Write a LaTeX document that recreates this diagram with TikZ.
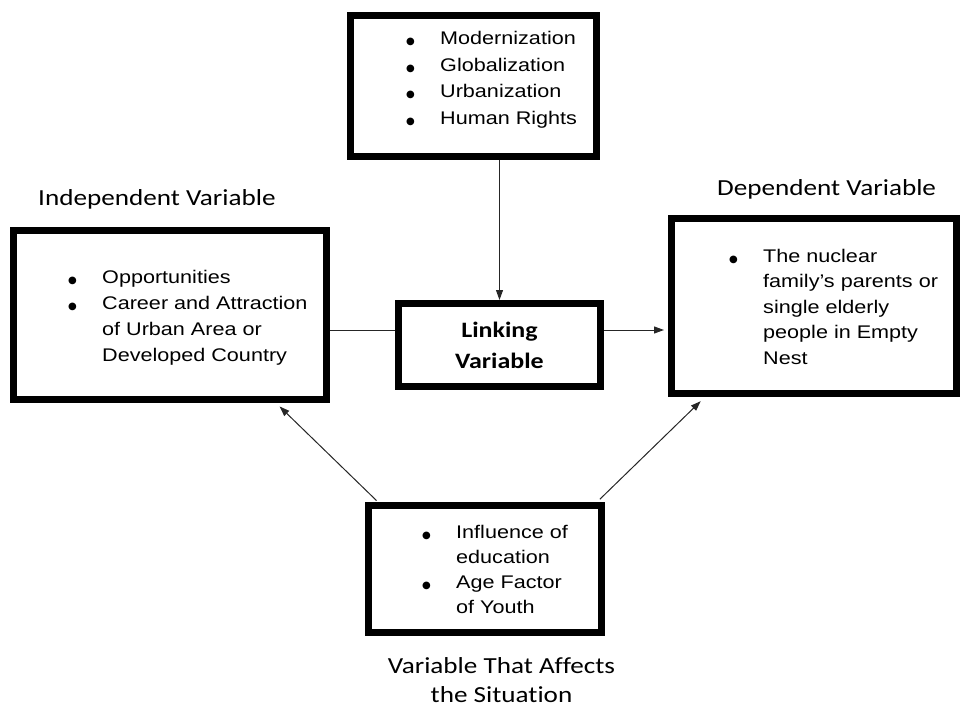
\documentclass[tikz,border=0pt]{standalone}
\usepackage{fontspec}
\setmainfont[FakeStretch=1.18]{Liberation Sans}
\newfontfamily\labelfont[FakeStretch=1.18,Ligatures=NoCommon]{Carlito}
\newfontfamily\dotfont{DejaVu Sans}
\usetikzlibrary{positioning}
\usetikzlibrary{arrows.meta}

\newcommand{\bul}{\makebox[34pt][l]{{\dotfont\fontsize{10}{10}\selectfont ●}}}
\newcommand{\cont}{\hspace*{34pt}}

\tikzset{
  varbox/.style={draw, line width=7pt, inner sep=0pt},
  items/.style={font=\fontsize{18.3}{#1}\selectfont, inner sep=0pt, anchor=base west},
  lbl/.style={font=\labelfont\fontsize{23}{29}\selectfont, inner sep=0pt},
  conn/.style={line width=1pt, black!85},
  tip/.style={-{Triangle[length=10pt,width=7pt]}}
}

\begin{document}
\begin{tikzpicture}[x=1pt,y=-1pt]
        \useasboundingbox (0,0) rectangle (964,706);
        % Boxes
        \node[varbox, minimum width=246pt, minimum height=141pt] (top)   at (473.5,86)  {};
        \node[varbox, minimum width=313pt, minimum height=169pt] (indep) at (170,315)   {};
        \node[varbox, minimum width=202pt, minimum height=83pt,
              font=\labelfont\bfseries\fontsize{22}{31}\selectfont, align=center]
                                                                 (link)  at (499.5,345) {Linking\\Variable};
        \node[varbox, minimum width=285pt, minimum height=175pt] (dep)   at (814,306)   {};
        \node[varbox, minimum width=233pt, minimum height=127pt] (affect) at (485,569)  {};
        % Lists
        \node[items=26.5] (toplist) at (406,45) {\begin{tabular}[t]{@{}l@{}}
            \bul Modernization\\ \bul Globalization\\ \bul Urbanization\\ \bul Human Rights
            \end{tabular}};
        \node[items=26] (indeplist) at (68,283) {\begin{tabular}[t]{@{}l@{}}
            \bul Opportunities\\ \bul Career and Attraction\\ \cont of Urban Area or\\ \cont Developed Country
            \end{tabular}};
        \node[items=25.5] (deplist) at (729,262) {\begin{tabular}[t]{@{}l@{}}
            \bul The nuclear\\ \cont family’s parents or\\ \cont single elderly\\ \cont people in Empty\\ \cont Nest
            \end{tabular}};
        \node[items=25] (affectlist) at (422,538) {\begin{tabular}[t]{@{}l@{}}
            \bul Influence of\\ \cont education\\ \bul Age Factor\\ \cont of Youth
            \end{tabular}};
        % Labels
        \node[lbl, anchor=base west] (indeplbl) at (38,205) {Independent Variable};
        \node[lbl, anchor=base west] (deplbl)   at (717,195) {Dependent Variable};
        \node[lbl, anchor=base] (affectlbl) at (501.5,673) {\begin{tabular}[t]{@{}c@{}}
            Variable That Affects\\ the Situation
            \end{tabular}};
        % Edges
        \draw[conn, tip] (link.north |- top.south) -- (link.north);
        \draw[conn] ([yshift=15pt]link.west -| indep.east) -- ([yshift=15pt]link.west);
        \draw[conn, tip, shorten >=4pt] ([yshift=15pt]link.east) -- ([yshift=15pt]link.east -| dep.west);
        \draw[conn, tip, shorten <=2pt, shorten >=5pt] ([xshift=13pt]affect.north west) -- ([xshift=106pt]indep.south);
        \draw[conn, tip, shorten <=4pt, shorten >=6pt] ([xshift=-8pt]affect.north east) -- ([xshift=37pt]dep.south west);
    \end{tikzpicture}
\end{document}
